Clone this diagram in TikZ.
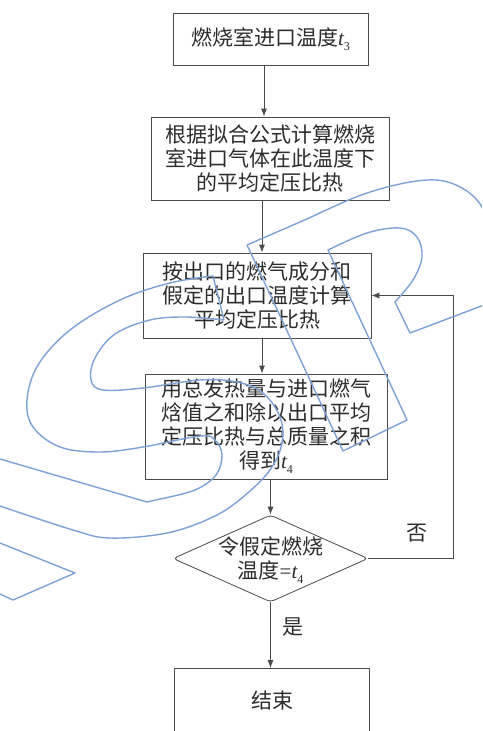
\documentclass[tikz,border=0pt]{standalone}
\usepackage{fontspec}
\setmainfont{Noto Sans CJK SC}
\newfontfamily\tms{Liberation Serif}
\usetikzlibrary{arrows.meta,shapes.geometric}
\definecolor{wm}{RGB}{125,162,216}
\definecolor{ln}{RGB}{75,75,75}
\definecolor{tx}{RGB}{45,45,45}
\newcommand\tvar[1]{{\tms\itshape t}\raisebox{-0.45ex}{\fontsize{12}{12}\selectfont\tms #1}}
\begin{document}
\begin{tikzpicture}[x=1pt,y=-1pt,
  box/.style={draw=ln, line width=0.8pt, rectangle, inner sep=0pt, text=tx, align=center, font=\fontsize{21}{24}\selectfont},
  arr/.style={draw=ln, line width=0.8pt, -{Latex[length=8pt,width=6pt]}},
  lbl/.style={text=tx, font=\fontsize{21}{24}\selectfont, inner sep=0pt, align=center},
  wmline/.style={draw=wm, line width=1.4pt, line join=round}]
\useasboundingbox (0,0) rectangle (482,731);
\clip (0,0) rectangle (482,731);
\fill[white] (0,0) rectangle (482,731);

\node[box, minimum width=195pt, minimum height=52pt] (b1) at (270.5,39) {燃烧室进口温度\tvar{3}};
\node[box, minimum width=238pt, minimum height=83pt] (b2) at (270,158.5) {根据拟合公式计算燃烧\\室进口气体在此温度下\\的平均定压比热};
\node[box, minimum width=228pt, minimum height=85pt] (b3) at (257,295.5) {按出口的燃气成分和\\假定的出口温度计算\\平均定压比热};
\node[box, minimum width=242pt, minimum height=105pt] (b4) at (266,426.5) {用总发热量与进口燃气\\焓值之和除以出口平均\\定压比热与总质量之积\\得到\tvar{4}};
\node[diamond, draw=ln, line width=0.8pt, minimum width=195pt, minimum height=87pt, inner sep=0pt, rounded corners=4pt] (d) at (270.5,558.5) {};
\node[lbl] (dt) at (270.5,560) {令假定燃烧\\温度{\tms=}\tvar{4}};
\node[box, minimum width=195pt, minimum height=66pt, anchor=north] (e) at (271.5,668) {};
\node[lbl] (et) at (272,700) {结束};
\node[lbl] (no) at (417,533) {否};
\node[lbl] (yes) at (293,627) {是};
\coordinate (fb) at (453,558.5);

\draw[arr] ([xshift=-6.5pt]b1.south) -- ([xshift=-6.5pt]b1.south |- b2.north);
\draw[arr] ([xshift=-8pt]b2.south) -- ([xshift=-8pt]b2.south |- b3.north);
\draw[arr] ([xshift=5pt]b3.south) -- ([xshift=5pt]b3.south |- b4.north);
\draw[arr] ([xshift=4.5pt]b4.south) -- ([xshift=4.5pt]b4.south |- d.north);
\draw[arr] (d.south) -- (d.south |- e.north);
\draw[arr] (d.east) -- (d.east -| fb) |- (b3.east);

% watermark
\draw[wmline] (224,320) -- (213,276) -- plot[smooth, tension=0.6] coordinates {(213,276) (170,283) (120,300) (70,330) (38,365) (27,400) (33,427) (60,447) (100,452) (143,447) (200,436) (215,440) (222,455) (216,475) (195,490) (160,499)} -- (147,502) -- (0,459);
\draw[wmline] plot[smooth, tension=0.6] coordinates {(224,320) (185,317) (150,320) (115,334) (95,358) (91,380) (103,390) (143,388) (200,380) (237,382) (263,393) (280,417) (282,443) (270,470) (243,497) (213,517) (167,533) (110,538) (73,530) (0,506)};
\draw[wmline] (0,543) -- (75,573) -- (13,600) -- (0,594);
\draw[wmline] (247,245) -- (343,451) -- (407,420) -- (328,250) -- plot[smooth, tension=0.6] coordinates {(328,250) (367,233) (400,228) (417,237) (422,257) (413,280) (395,302)} -- (410,333) -- (484,305) -- plot[smooth, tension=0.6] coordinates {(484,305) (497,255) (485,212) (462,188) (427,180) (367,193) (300,222) (247,245)};
\end{tikzpicture}
\end{document}
